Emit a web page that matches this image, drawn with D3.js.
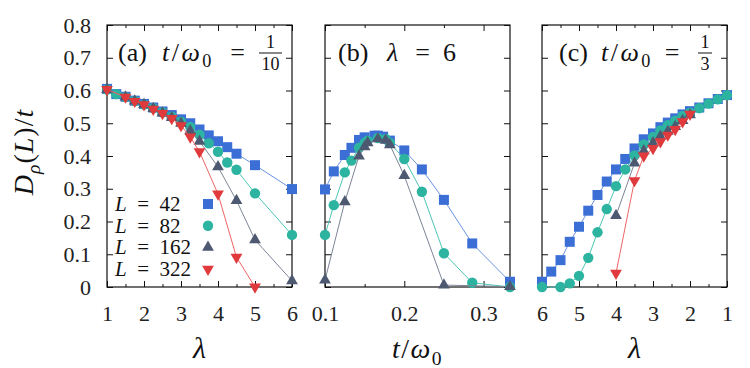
<!DOCTYPE html>
<html>
<head>
<meta charset="utf-8">
<script src="https://cdn.jsdelivr.net/npm/d3@7"></script>
<style>
  body { margin: 0; background: #fff; }
  svg { display: block; }
</style>
</head>
<body>
<svg id="chart" width="750" height="368"></svg>
<script>
// ---- data ----
const yTicks = [0, 0.1, 0.2, 0.3, 0.4, 0.5, 0.6, 0.7, 0.8];
const yTickLabels = ['0', '0.1', '0.2', '0.3', '0.4', '0.5', '0.6', '0.7', '0.8'];
const xTicksA = [1, 2, 3, 4, 5, 6];
const xMinorA = [1.5, 2.5, 3.5, 4.5, 5.5];
const xTicksB = [0.1, 0.2, 0.3];
const xTickLabelsB = ['0.1', '0.2', '0.3'];
const xMinorB = [0.15, 0.25];
const xTicksC = [6, 5, 4, 3, 2, 1];
const xMinorC = [5.5, 4.5, 3.5, 2.5, 1.5];
const legendSizes = ['42', '82', '162', '322'];

// (a) t/w0 = 1/10, x = lambda
const a42 = [[1,0.605],[1.25,0.589],[1.5,0.581],[1.75,0.569],[2,0.559],[2.25,0.548],[2.5,0.536],[2.75,0.525],[3,0.512],[3.25,0.5],[3.5,0.481],[3.75,0.463],[4,0.445],[4.25,0.427],[4.5,0.407],[5,0.372],[6,0.299]];
const a82 = [[1,0.603],[1.25,0.589],[1.5,0.58],[1.75,0.568],[2,0.557],[2.25,0.546],[2.5,0.533],[2.75,0.52],[3,0.505],[3.25,0.489],[3.5,0.465],[3.75,0.439],[4,0.413],[4.25,0.38],[4.5,0.358],[5,0.286],[6,0.159]];
const a162 = [[1,0.603],[1.5,0.58],[1.75,0.568],[2,0.557],[2.25,0.545],[2.5,0.531],[2.75,0.517],[3,0.5],[3.25,0.477],[3.5,0.445],[4,0.367],[4.5,0.264],[5,0.144],[6,0.019]];
const a322 = [[1,0.603],[1.5,0.58],[1.75,0.567],[2,0.557],[2.25,0.543],[2.5,0.53],[2.75,0.515],[3,0.493],[3.25,0.458],[3.5,0.413],[4,0.284],[4.5,0.091],[5,0.0]];

// (b) lambda = 6, x = t/w0
const b42 = [[0.1,0.298],[0.1111,0.353],[0.125,0.403],[0.1333,0.425],[0.1429,0.449],[0.15,0.457],[0.1625,0.462],[0.1667,0.462],[0.1733,0.459],[0.1818,0.447],[0.2,0.417],[0.2222,0.359],[0.25,0.266],[0.2857,0.133],[0.3333,0.016]];
const b82 = [[0.1,0.159],[0.1111,0.25],[0.125,0.35],[0.1333,0.386],[0.1429,0.425],[0.15,0.44],[0.1538,0.447],[0.1667,0.455],[0.1765,0.452],[0.1818,0.44],[0.2,0.391],[0.2222,0.291],[0.25,0.103],[0.2857,0.013],[0.3333,0.0]];
const b162 = [[0.1,0.021],[0.125,0.26],[0.1429,0.4],[0.15,0.428],[0.1538,0.44],[0.1667,0.452],[0.1765,0.448],[0.1818,0.434],[0.2,0.34],[0.25,0.006],[0.3333,0.001]];

// (c) t/w0 = 1/3, x = lambda (reversed)
const c42 = [[6,0.016],[5.75,0.047],[5.5,0.082],[5.25,0.138],[5,0.184],[4.75,0.233],[4.5,0.281],[4.25,0.322],[4,0.359],[3.75,0.391],[3.5,0.423],[3.25,0.451],[3,0.469],[2.8,0.488],[2.6,0.502],[2.4,0.515],[2.2,0.527],[2,0.537],[1.75,0.548],[1.5,0.561],[1.25,0.574],[1,0.586]];
const c82 = [[6,0.0],[5.5,0.0],[5.25,0.011],[5,0.034],[4.75,0.089],[4.5,0.167],[4.25,0.238],[4,0.308],[3.75,0.359],[3.5,0.402],[3.25,0.435],[3,0.458],[2.8,0.478],[2.6,0.494],[2.4,0.508],[2.2,0.522],[2,0.532],[1.75,0.546],[1.5,0.56],[1.25,0.573],[1,0.586]];
const c162 = [[4,0.218],[3.5,0.378],[3.25,0.416],[3,0.44],[2.8,0.46],[2.6,0.475],[2.4,0.49],[2.2,0.508],[2,0.526]];
const c322 = [[4,0.042],[3.5,0.325],[3.25,0.4],[3,0.423],[2.8,0.444],[2.6,0.464],[2.4,0.481],[2.2,0.505],[2,0.528]];

// ---- drawing ----
const FONT = 'Liberation Serif';
const svg = d3.select('#chart').attr('font-family', FONT);
const top0 = 25, bottom0 = 287;
const y = d3.scaleLinear().domain([0, 0.8]).range([bottom0, top0]);

// marker style per system size
const styles = [
  { fill: '#3b6fd6', line: '#6a93e2', shape: d3.symbolSquare, size: 100, rot: 0 },
  { fill: '#2db4a1', line: '#4fc6b4', shape: d3.symbolCircle, size: 85, rot: 0 },
  { fill: '#4d5871', line: '#7d8497', shape: d3.symbolTriangle, size: 60, rot: 0 },
  { fill: '#e03a3c', line: '#ec6565', shape: d3.symbolTriangle, size: 60, rot: 180 }
];

const panels = [
  { x: d3.scaleLinear().domain([1, 6]).range([107, 292]), ticks: xTicksA, labels: xTicksA.map(String), minor: xMinorA, series: [a42, a82, a162, a322], yLabels: true },
  { x: d3.scaleLinear().domain([0.1, 1 / 3]).range([325, 510]), ticks: xTicksB, labels: xTickLabelsB, minor: xMinorB, series: [b42, b82, b162, null], yLabels: false },
  { x: d3.scaleLinear().domain([6, 1]).range([542, 727]), ticks: xTicksC, labels: xTicksC.map(String), minor: xMinorC, series: [c42, c82, c162, c322], yLabels: false }
];

function styleAxis(g, fs) {
  g.attr('font-family', FONT).attr('font-size', fs);
  g.select('.domain').remove();
  g.selectAll('.tick line').attr('stroke', '#111').attr('stroke-width', 1);
  g.selectAll('.tick text').attr('fill', '#222').attr('font-family', FONT);
}

panels.forEach(p => {
  const g = svg.append('g');
  const [x0, x1] = p.x.range();

  // bottom / top ticks
  g.append('g').attr('transform', `translate(0,${bottom0})`)
    .call(d3.axisBottom(p.x).tickValues(p.ticks).tickSizeInner(-6).tickSizeOuter(0).tickPadding(18)
      .tickFormat((d, i) => p.labels[i]))
    .call(s => styleAxis(s, 22));
  g.append('g').attr('transform', `translate(0,${bottom0})`)
    .call(d3.axisBottom(p.x).tickValues(p.minor).tickSizeInner(-3).tickSizeOuter(0).tickFormat(''))
    .call(s => styleAxis(s, 10));
  g.append('g').attr('transform', `translate(0,${top0})`)
    .call(d3.axisTop(p.x).tickValues(p.ticks).tickSizeInner(-6).tickSizeOuter(0).tickFormat(''))
    .call(s => styleAxis(s, 10));
  g.append('g').attr('transform', `translate(0,${top0})`)
    .call(d3.axisTop(p.x).tickValues(p.minor).tickSizeInner(-3).tickSizeOuter(0).tickFormat(''))
    .call(s => styleAxis(s, 10));

  // left / right ticks
  g.append('g').attr('transform', `translate(${x0},0)`)
    .call(d3.axisLeft(y).tickValues(yTicks).tickSizeInner(-6).tickSizeOuter(0).tickPadding(16)
      .tickFormat((d, i) => p.yLabels ? yTickLabels[i] : ''))
    .call(s => styleAxis(s, 22));
  g.append('g').attr('transform', `translate(${x1},0)`)
    .call(d3.axisRight(y).tickValues(yTicks).tickSizeInner(-6).tickSizeOuter(0).tickFormat(''))
    .call(s => styleAxis(s, 10));

  // frame
  g.append('rect')
    .attr('x', x0).attr('y', top0)
    .attr('width', x1 - x0).attr('height', bottom0 - top0)
    .attr('fill', 'none').attr('stroke', '#111').attr('stroke-width', 1.2);

  // series: line then markers
  p.series.forEach((data, k) => {
    if (!data) return;
    const st = styles[k];
    g.append('path')
      .datum(data)
      .attr('fill', 'none')
      .attr('stroke', st.line)
      .attr('stroke-width', 1)
      .attr('d', d3.line().x(d => p.x(d[0])).y(d => y(d[1])));
    g.selectAll(null)
      .data(data)
      .enter()
      .append('path')
      .attr('d', d3.symbol(st.shape, st.size))
      .attr('transform', d => `translate(${p.x(d[0])},${y(d[1])}) rotate(${st.rot})`)
      .attr('fill', st.fill);
  });
});

// ---- math-ish text helpers ----
function addMath(text, parts, fs) {
  text.attr('font-family', FONT).attr('fill', '#111');
  let shift = 0;
  parts.forEach(part => {
    const ts = text.append('tspan').text(part.t);
    if (part.it) ts.attr('font-style', 'italic');
    const want = part.sub ? fs * 0.24 : 0;
    if (want !== shift) { ts.attr('dy', want - shift); shift = want; }
    if (part.sub) ts.attr('font-size', fs * 0.7);
  });
  return text;
}

function mathAt(x, yb, parts, fs, anchor, spacing) {
  const t = svg.append('text').attr('x', x).attr('y', yb).attr('font-size', fs)
    .attr('text-anchor', anchor || 'start');
  if (spacing) t.attr('letter-spacing', spacing);
  return addMath(t, parts, fs);
}

function fraction(cx, yBar, num, den, fs) {
  const n = svg.append('text').attr('x', cx).attr('y', yBar - 5).attr('font-family', FONT)
    .attr('text-anchor', 'middle').attr('font-size', fs).attr('fill', '#111').text(num);
  const d = svg.append('text').attr('x', cx).attr('y', yBar + fs - 1).attr('font-family', FONT)
    .attr('text-anchor', 'middle').attr('font-size', fs).attr('fill', '#111').text(den);
  const w = Math.max(n.node().getComputedTextLength(), d.node().getComputedTextLength()) + 5;
  svg.append('line').attr('x1', cx - w / 2).attr('x2', cx + w / 2)
    .attr('y1', yBar).attr('y2', yBar).attr('stroke', '#111').attr('stroke-width', 1);
}

const tOverW = [{ t: 't', it: true }, { t: '/' }, { t: 'ω', it: true }, { t: '0', sub: true }];
const TY = 61, TF = 26;

// panel titles, pieces placed like the typeset original
mathAt(118, TY, [{ t: '(a)' }], TF);
mathAt(162, TY, tOverW, TF, 'start', 2.5);
mathAt(237.5, TY, [{ t: '=' }], TF, 'middle');
fraction(270.5, 53, '1', '10', 18);

mathAt(338, TY, [{ t: '(b)' }], TF);
mathAt(387, TY, [{ t: 'λ', it: true }], TF);
mathAt(422.5, TY, [{ t: '=' }], TF, 'middle');
mathAt(449.5, TY, [{ t: '6' }], TF, 'middle');

mathAt(559, TY, [{ t: '(c)' }], TF);
mathAt(601, TY, tOverW, TF, 'start', 2.5);
mathAt(672, TY, [{ t: '=' }], TF, 'middle');
fraction(705, 53, '1', '3', 18);

// legend inside panel (a)
legendSizes.forEach((L, i) => {
  const cy = 204 + i * 21.7;
  mathAt(115, cy + 7, [{ t: 'L', it: true }, { t: '\u2002=\u2002' + L }], 21);
  const st = styles[i];
  svg.append('path')
    .attr('d', d3.symbol(st.shape, st.size))
    .attr('transform', `translate(208,${cy}) rotate(${st.rot})`)
    .attr('fill', st.fill);
});

// axis titles
const xTitleY = 358;
mathAt(199.5, xTitleY, [{ t: 'λ', it: true }], 30, 'middle');
mathAt(417.5, xTitleY, tOverW, 28, 'middle', 1.5);
mathAt(634.5, xTitleY, [{ t: 'λ', it: true }], 30, 'middle');

addMath(svg.append('text')
    .attr('transform', 'translate(33,152) rotate(-90)')
    .attr('text-anchor', 'middle').attr('font-size', 28).attr('letter-spacing', 1),
  [{ t: 'D', it: true }, { t: 'ρ', it: true, sub: true }, { t: '(' }, { t: 'L', it: true }, { t: ')/' }, { t: 't', it: true }], 28);
</script>
</body>
</html>
